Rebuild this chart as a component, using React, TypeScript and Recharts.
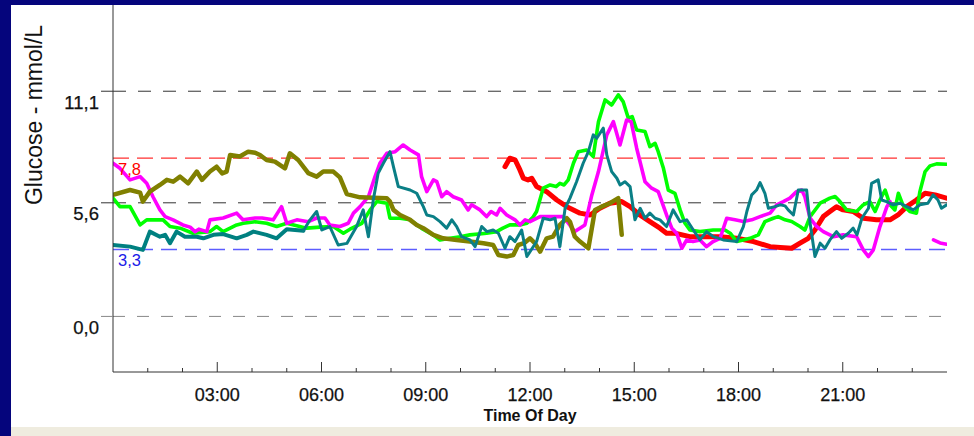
import React from 'react';
import { LineChart, Line, XAxis, YAxis, ReferenceLine } from 'recharts';

// [hour of day, glucose mmol/L]
const olive = [[0,5.99],[0.49,6.23],[0.78,6.1],[0.86,5.66],[1.06,6.15],[1.35,6.48],[1.55,6.73],[1.73,6.64],[1.93,6.89],[2.16,6.56],[2.41,7.14],[2.56,6.73],[2.79,7.14],[2.98,7.38],[3.14,7.05],[3.27,7.14],[3.37,7.96],[3.65,7.88],[3.89,8.12],[4.09,8.07],[4.23,7.96],[4.42,7.71],[4.66,7.63],[4.95,7.3],[5.09,8.04],[5.33,7.71],[5.62,7.06],[5.86,6.89],[6.05,7.14],[6.34,7.14],[6.53,6.85],[6.73,6.03],[7.11,5.87],[7.49,5.85],[7.88,5.83],[7.97,5.66],[8.07,5.25],[8.26,5.0],[8.55,4.76],[8.74,4.51],[8.93,4.35],[9.22,4.02],[9.5,3.85],[9.89,3.77],[10.27,3.69],[10.66,3.61],[10.94,3.52],[11.09,3.03],[11.33,2.95],[11.52,3.03],[11.66,3.52],[11.83,3.61],[12.0,3.85],[12.14,3.61],[12.29,3.19],[12.48,3.85],[12.66,3.93],[12.86,4.51],[13.06,4.84],[13.15,4.67],[13.29,3.93],[13.44,3.69],[13.68,3.36],[13.87,5.25],[14.06,5.41],[14.3,5.58],[14.54,5.83],[14.64,4.02]];

const magenta = [[0,7.55],[0.2,7.3],[0.49,6.73],[0.78,6.89],[0.97,6.56],[1.15,5.9],[1.35,5.25],[1.5,4.92],[1.73,4.76],[2.01,4.51],[2.22,4.4],[2.36,4.18],[2.47,4.3],[2.7,4.18],[2.79,4.76],[3.17,4.85],[3.56,5.09],[3.74,4.76],[4.09,4.85],[4.29,4.85],[4.61,4.76],[4.85,5.41],[5.0,4.59],[5.29,4.76],[5.62,4.67],[5.86,4.85],[6.1,4.85],[6.24,4.51],[6.53,4.43],[6.77,4.59],[6.92,5.09],[7.11,5.41],[7.35,5.9],[7.54,6.89],[7.68,7.55],[7.88,8.04],[8.12,8.12],[8.35,8.45],[8.55,8.2],[8.79,7.96],[8.88,6.89],[9.03,6.15],[9.22,6.73],[9.32,6.64],[9.46,5.9],[9.6,6.15],[9.79,5.9],[10.03,5.74],[10.22,5.25],[10.32,5.5],[10.56,5.25],[10.75,4.92],[10.88,5.17],[11.04,5.0],[11.14,5.33],[11.33,5.0],[11.57,4.76],[11.71,4.51],[11.86,4.76],[12.0,4.67],[12.29,4.92],[12.96,4.92],[13.29,4.18],[13.58,4.51],[13.78,5.99],[13.97,7.14],[14.21,8.95],[14.4,9.6],[14.59,8.45],[14.78,9.68],[14.91,9.6],[15.07,8.29],[15.31,6.64],[15.5,6.32],[15.69,6.15],[15.93,5.0],[16.08,4.35],[16.22,4.1],[16.37,3.36],[16.51,3.77],[16.69,3.69],[16.89,3.77],[17.08,3.44],[17.27,3.69],[17.47,3.85],[17.66,4.84],[17.9,4.76],[18.14,4.68],[18.38,4.76],[18.62,4.92],[18.91,5.09],[19.1,5.5],[19.29,5.66],[19.48,5.83],[19.67,6.15],[19.82,6.23],[19.91,5.9],[20.06,4.84],[20.25,4.43],[20.44,4.18],[20.73,3.93],[21.01,4.02],[21.4,3.93],[21.59,3.28],[21.74,2.95],[21.88,3.28],[22.07,4.43],[22.27,5.41],[22.36,5.66],[23.0,null],[23.61,3.77],[23.8,3.62],[23.99,3.56]];

const green = [[0,5.83],[0.2,5.41],[0.49,5.41],[0.78,4.51],[0.97,4.76],[1.16,4.76],[1.44,4.76],[1.64,4.43],[1.93,4.35],[2.3,4.1],[2.79,4.18],[2.98,4.43],[3.17,4.18],[3.56,4.51],[3.75,4.59],[4.09,4.67],[4.42,4.59],[4.71,4.43],[5.0,4.59],[5.57,4.35],[5.96,4.4],[6.34,4.43],[6.63,4.1],[6.82,4.3],[7.16,4.59],[7.4,5.25],[7.59,5.66],[7.88,5.58],[7.97,4.84],[8.26,4.84],[8.55,4.76],[8.92,4.3],[9.21,4.02],[9.41,3.77],[9.7,3.85],[9.99,3.93],[10.27,4.02],[10.75,4.1],[11.04,4.18],[11.22,4.35],[11.42,4.51],[11.71,4.51],[11.91,4.59],[12.09,4.9],[12.19,5.17],[12.38,6.32],[12.58,6.48],[12.75,6.4],[12.86,6.56],[12.98,6.48],[13.1,6.73],[13.25,7.55],[13.39,8.12],[13.63,8.2],[13.82,7.88],[13.97,9.6],[14.16,10.67],[14.35,10.42],[14.54,10.92],[14.68,10.59],[14.83,9.77],[14.94,9.85],[15.07,9.19],[15.31,9.11],[15.45,8.37],[15.6,8.53],[15.69,8.12],[15.84,7.3],[15.98,6.23],[16.17,6.07],[16.32,5.25],[16.46,4.59],[16.6,4.26],[16.89,4.18],[17.27,4.26],[17.61,4.26],[17.76,4.1],[17.95,3.69],[18.13,3.77],[18.33,3.85],[18.57,4.02],[18.76,4.67],[19.0,4.84],[19.14,4.92],[19.34,4.76],[19.53,4.68],[19.77,4.43],[19.91,4.26],[20.06,4.92],[20.35,5.58],[20.63,5.83],[20.78,5.91],[20.92,5.66],[21.11,5.25],[21.4,5.17],[21.59,5.5],[21.78,5.66],[21.93,5.17],[22.07,5.74],[22.22,6.23],[22.36,5.5],[22.5,5.25],[22.6,6.07],[22.73,5.5],[22.93,5.17],[23.12,5.09],[23.22,6.15],[23.37,7.14],[23.51,7.42],[23.7,7.52],[23.99,7.5]];

const red = [[11.28,7.38],[11.42,7.8],[11.57,7.72],[11.71,7.22],[11.81,6.81],[11.94,6.73],[12.05,6.81],[12.19,6.4],[12.48,6.15],[12.77,5.74],[13.06,5.41],[13.44,5.09],[13.73,5.0],[14.01,5.33],[14.3,5.58],[14.64,5.66],[14.88,5.41],[15.16,5.0],[15.45,4.67],[15.74,4.35],[15.93,4.1],[16.17,4.1],[16.6,3.93],[17.47,3.93],[17.95,3.85],[18.43,3.69],[18.91,3.44],[19.2,3.4],[19.53,3.36],[19.77,3.61],[20.01,3.85],[20.2,4.26],[20.44,4.92],[20.63,5.17],[20.82,5.41],[21.01,5.25],[21.3,5.17],[21.59,4.84],[21.97,4.76],[22.36,4.76],[22.59,5.0],[22.84,5.41],[23.12,5.74],[23.37,6.07],[23.66,5.99],[23.99,5.83]];

// early teal trace (drawn thicker) and the later teal trace
const tealEarly = [[0,3.52],[0.49,3.44],[0.86,3.28],[1.06,4.18],[1.35,3.93],[1.5,4.02],[1.64,3.61],[1.83,4.18],[2.07,3.93],[2.41,3.93],[2.6,3.85],[2.89,4.02],[3.17,4.06],[3.56,3.85],[3.85,4.02],[4.04,4.18],[4.42,4.02],[4.71,3.85],[5.0,4.3],[5.48,4.22]];
const tealLate = [[5.48,4.22],[5.67,4.76],[5.86,5.17],[6.01,4.26],[6.24,4.43],[6.48,3.52],[6.73,3.6],[7.01,4.43],[7.2,5.25],[7.35,3.93],[7.49,5.74],[7.63,7.06],[7.78,7.55],[7.97,8.12],[8.07,7.38],[8.21,6.4],[8.55,6.23],[8.74,6.07],[8.93,5.41],[9.03,5.0],[9.22,4.92],[9.41,4.67],[9.6,4.35],[9.75,4.76],[9.89,4.43],[10.03,3.93],[10.27,3.77],[10.42,3.44],[10.61,4.43],[10.76,4.18],[10.94,4.26],[11.09,4.1],[11.28,3.36],[11.42,3.93],[11.57,3.69],[11.76,4.26],[11.91,2.95],[12.0,3.19],[12.19,3.69],[12.38,4.84],[12.58,4.76],[12.72,4.84],[12.86,3.44],[13.01,5.33],[13.15,5.83],[13.34,6.64],[13.53,7.55],[13.68,8.12],[13.82,8.95],[13.92,8.78],[14.11,9.28],[14.21,7.96],[14.35,7.14],[14.5,6.81],[14.59,6.48],[14.73,6.64],[14.88,6.4],[15.02,4.76],[15.17,5.33],[15.31,4.84],[15.45,5.09],[15.6,4.84],[15.74,4.76],[15.93,4.43],[16.12,5.25],[16.32,4.67],[16.51,4.76],[16.7,4.26],[16.89,3.77],[17.08,4.18],[17.28,3.93],[17.56,3.77],[17.95,3.69],[18.14,4.43],[18.24,5.17],[18.38,5.99],[18.52,6.23],[18.62,6.6],[18.76,6.07],[18.86,5.33],[19.05,5.41],[19.2,5.5],[19.34,5.45],[19.43,5.25],[19.58,5.0],[19.72,6.23],[19.96,6.23],[20.06,4.6],[20.2,2.95],[20.35,3.61],[20.49,3.36],[20.63,3.77],[20.82,4.18],[20.97,3.85],[21.16,4.1],[21.3,4.35],[21.41,4.02],[21.55,4.84],[21.74,5.33],[21.83,6.56],[22.02,6.73],[22.12,5.74],[22.26,5.66],[22.45,5.5],[22.65,5.58],[22.84,5.41],[23.03,5.25],[23.22,5.5],[23.45,5.58],[23.6,5.99],[23.74,5.74],[23.84,5.33],[23.99,5.5]];

const hourTicks = [1,2,3,4,5,6,7,8,9,10,11,12,13,14,15,16,17,18,19,20,21,22,23];
const hourLabels: Record<number, string> = { 3: '03:00', 6: '06:00', 9: '09:00', 12: '12:00', 15: '15:00', 18: '18:00', 21: '21:00' };
const glucoseTicks = [0, 5.6, 11.1];
const glucoseLabels: Record<number, string> = { 0: '0,0', 5.6: '5,6', 11.1: '11,1' };
const upperTarget = 7.8;
const lowerTarget = 3.3;

const FONT = "'Liberation Sans', Arial, sans-serif";
const toPoints = (arr: any[]) => arr.map(([t, v]) => ({ t, v }));

const XTick = (props: any) => {
  const { x, y, payload } = props;
  const h = payload.value;
  const major = h % 3 === 0;
  return (
    <g>
      <line x1={x} x2={x} y1={y} y2={y - (major ? 10 : 4)} stroke="#333" strokeWidth={1} />
      {major && (
        <text x={x} y={y + 29} textAnchor="middle" fontSize={18} fontFamily={FONT} fill="#111" stroke="#111" strokeWidth={0.25}>
          {hourLabels[h]}
        </text>
      )}
    </g>
  );
};

const YTick = (props: any) => {
  const { x, y, payload } = props;
  const v = payload.value;
  return (
    <g>
      <line x1={x + 2} x2={x + 14} y1={y} y2={y} stroke={v === 0 ? '#888' : '#333'} strokeWidth={1} />
      <text x={x} y={y + 17.5} textAnchor="end" fontSize={18.5} fontFamily={FONT} fill="#111" stroke="#111" strokeWidth={0.25}>
        {glucoseLabels[v]}
      </text>
    </g>
  );
};

const lineProps = { dataKey: 'v', dot: false, isAnimationActive: false, type: 'linear' as const, strokeLinejoin: 'round' as const, strokeLinecap: 'round' as const };

export default function App() {
  return (
    <div style={{ position: 'fixed', left: 0, top: 0, width: 974, height: 436, background: '#05057c', overflow: 'hidden' }}>
      <div style={{ position: 'absolute', left: 11, top: 5, width: 963, height: 422, background: '#ffffff' }} />
      <div style={{ position: 'absolute', left: 11, top: 427, width: 963, height: 9, background: '#efecdf' }} />
      <div style={{ position: 'absolute', left: 0, top: 0 }}>
        <LineChart width={974} height={436} margin={{ top: 5, right: 27, bottom: 24, left: 53 }}>
          <XAxis
            type="number"
            dataKey="t"
            domain={[0, 24]}
            ticks={hourTicks}
            interval={0}
            tickSize={0}
            tickMargin={0}
            tickLine={false}
            tick={<XTick />}
            height={40}
            axisLine={{ stroke: '#333', strokeWidth: 1 }}
            allowDataOverflow
          />
          <YAxis
            type="number"
            domain={[-2.74, 15.35]}
            ticks={glucoseTicks}
            interval={0}
            width={60}
            tickSize={12}
            tickMargin={2}
            tickLine={false}
            tick={<YTick />}
            axisLine={{ stroke: '#333', strokeWidth: 1 }}
            allowDataOverflow
          />
          <ReferenceLine y={11.1} stroke="#333" strokeDasharray="13 12" strokeWidth={1} />
          <ReferenceLine y={5.6} stroke="#333" strokeDasharray="13 12" strokeWidth={1} />
          <ReferenceLine y={0} stroke="#888" strokeDasharray="12 12" strokeWidth={1} />
          <ReferenceLine
            y={upperTarget}
            stroke="#ff3030"
            strokeDasharray="16 8"
            strokeWidth={1.3}
            label={{ value: '7,8', position: 'insideTopLeft', offset: 5, fill: '#ff0000', fontSize: 16.5, fontFamily: FONT }}
          />
          <ReferenceLine
            y={lowerTarget}
            stroke="#5c5cff"
            strokeDasharray="16 8"
            strokeWidth={1.5}
            label={{ value: '3,3', position: 'insideTopLeft', offset: 5, fill: '#1a1ae8', fontSize: 16.5, fontFamily: FONT }}
          />
          <Line {...lineProps} data={toPoints(red)} stroke="#ff0000" strokeWidth={5} />
          <Line {...lineProps} data={toPoints(green)} stroke="#00ff00" strokeWidth={3.6} />
          <Line {...lineProps} data={toPoints(magenta)} stroke="#ff00ff" strokeWidth={3.6} />
          <Line {...lineProps} data={toPoints(olive)} stroke="#808000" strokeWidth={4.5} />
          <Line {...lineProps} data={toPoints(tealEarly)} stroke="#008080" strokeWidth={4} />
          <Line {...lineProps} data={toPoints(tealLate)} stroke="#0a7f86" strokeWidth={3} />
          <text x={42} y={115} transform="rotate(-90 42 115)" textAnchor="middle" fontSize={23} fontFamily={FONT} fill="#111">
            Glucose - mmol/L
          </text>
          <text x={530} y={421} textAnchor="middle" fontSize={16} fontWeight="bold" fontFamily={FONT} fill="#111">
            Time Of Day
          </text>
        </LineChart>
      </div>
    </div>
  );
}
